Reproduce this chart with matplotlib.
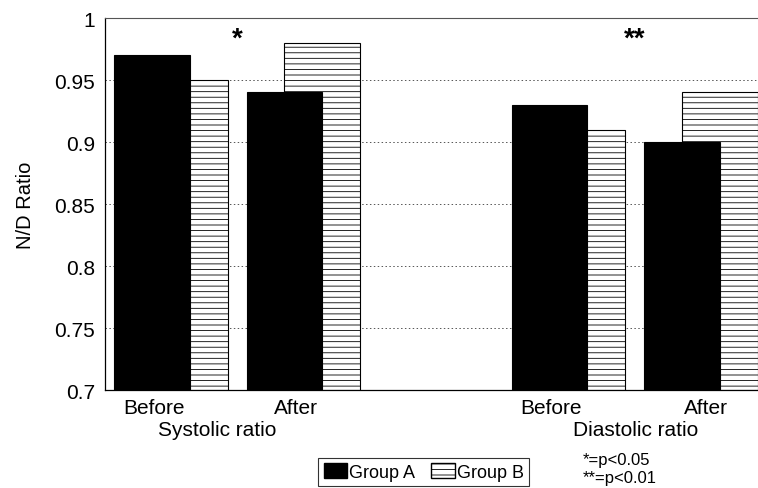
import matplotlib
matplotlib.use('Agg')
import matplotlib.pyplot as plt
from matplotlib.patches import Patch

plt.rcParams['font.family'] = ['Liberation Sans', 'DejaVu Sans']
plt.rcParams['hatch.linewidth'] = 0.6

# data
conditions = ['Before', 'After', 'Before', 'After']
groups = ['Systolic ratio', 'Diastolic ratio']
positions = [0, 1, 3, 4]
group_a = [0.97, 0.94, 0.93, 0.90]
group_b = [0.95, 0.98, 0.91, 0.94]
signif = ['*', '**']
yticks = [0.7, 0.75, 0.8, 0.85, 0.9, 0.95, 1]

w = 0.573
off = 0.286
label_off = [0.30, 0.37, 0.30, 0.47]

fig = plt.figure(figsize=(7.58, 4.89), dpi=100)
ax = fig.add_axes([0.1385, 0.2004, 0.8615, 0.7607])

ax.bar([p + off for p in positions], [v - 0.7 for v in group_b], width=w, bottom=0.7,
       align='edge', color='white', edgecolor='black', hatch='---', linewidth=0.8,
       zorder=2, label='Group B')
ax.bar(positions, [v - 0.7 for v in group_a], width=w, bottom=0.7, align='edge',
       color='black', edgecolor='black', linewidth=0.8, zorder=3, label='Group A')

ax.set_ylim(0.7, 1.0)
ax.set_xlim(-0.068, 4.86)
ax.set_yticks(yticks)
ax.set_yticklabels(['0.7', '0.75', '0.8', '0.85', '0.9', '0.95', '1'], fontsize=15)
ax.set_xticks([p + o for p, o in zip(positions, label_off)])
ax.set_xticklabels(conditions, fontsize=15)
ax.tick_params(axis='both', length=0, pad=7)
ax.tick_params(axis='x', pad=6)
ax.set_ylabel('N/D Ratio', fontsize=14.5, labelpad=14)

for y in yticks[1:-1]:
    ax.axhline(y, color='#555555', linestyle=(0, (1.5, 2.5)), linewidth=0.7, zorder=1)

ax.spines['right'].set_visible(False)
ax.spines['top'].set_color('#555555')
for s in ['left', 'bottom']:
    ax.spines[s].set_linewidth(0.9)

# group labels under the tick labels
group_x = [0.78, 3.94]
for g, xc in zip(groups, group_x):
    ax.text(xc, -0.105, g, transform=ax.get_xaxis_transform(), ha='center', va='center',
            fontsize=15)

# significance stars
for i, s in enumerate(signif):
    ax.text(positions[2 * i + 1] - 0.07, 0.983, s, ha='center', va='center',
            fontsize=20, fontweight='bold')

handles = [Patch(facecolor='black', edgecolor='black', label='Group A'),
           Patch(facecolor='white', edgecolor='black', hatch='---', label='Group B')]
leg = fig.legend(handles=handles, loc='center', bbox_to_anchor=(0.559, 0.033), ncol=2,
                 fontsize=13, frameon=True, fancybox=False, edgecolor='black',
                 handlelength=1.3, handleheight=0.9, handletextpad=0.1, columnspacing=0.9,
                 borderpad=0.3)
leg.get_frame().set_linewidth(0.8)

fig.text(0.769, 0.058, '*=p<0.05', fontsize=12, ha='left', va='center')
fig.text(0.769, 0.022, '**=p<0.01', fontsize=12, ha='left', va='center')

fig.savefig('out.png', dpi=100)
